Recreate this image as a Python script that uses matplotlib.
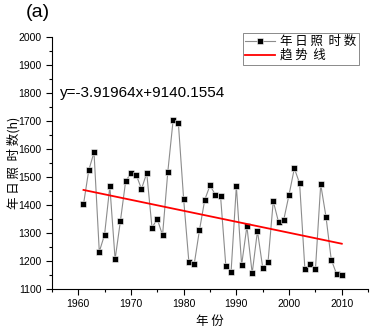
import matplotlib
matplotlib.use("Agg")
import matplotlib.pyplot as plt
import matplotlib.ticker as mticker
import numpy as np

plt.rcParams["font.family"] = ["Liberation Sans", "Noto Sans CJK SC", "DejaVu Sans"]

# annual sunshine hours, 1961-2010
years = list(range(1961, 2011))
sunshine = [
    1402, 1524, 1588, 1233, 1294, 1467, 1206, 1342, 1485, 1514,
    1508, 1457, 1514, 1319, 1350, 1292, 1519, 1702, 1692, 1421,
    1195, 1188, 1310, 1418, 1470, 1437, 1432, 1183, 1162, 1467,
    1186, 1324, 1156, 1307, 1176, 1195, 1414, 1339, 1348, 1437,
    1531, 1477, 1171, 1188, 1170, 1474, 1358, 1205, 1154, 1151,
]
slope = -3.91964
intercept = 9140.1554

x = np.array(years, dtype=float)
trend = slope * x + intercept

cjk = ["Noto Sans CJK SC", "DejaVu Sans"]

fig = plt.figure(figsize=(3.73, 3.29), dpi=100)
ax = fig.add_axes([0.139, 0.1216, 0.848, 0.766])

ax.plot(x, sunshine, color="#8c8c8c", linewidth=0.8, marker="s",
        markersize=5, markerfacecolor="black", markeredgecolor="white",
        markeredgewidth=0.4, label="年 日 照  时 数", zorder=3)
ax.plot(x, trend, color="red", linewidth=1.3, label="趋 势  线", zorder=4)

ax.set_xlim(1955, 2015)
ax.set_ylim(1100, 2000)
ax.xaxis.set_major_locator(mticker.MultipleLocator(10))
ax.xaxis.set_minor_locator(mticker.MultipleLocator(5))
ax.yaxis.set_major_locator(mticker.MultipleLocator(100))
ax.yaxis.set_minor_locator(mticker.MultipleLocator(50))
ax.tick_params(which="major", direction="out", length=4, width=0.8, labelsize=7.5)
ax.tick_params(which="minor", direction="out", length=2.5, width=0.8)
for side in ("top", "right"):
    ax.spines[side].set_visible(False)

ax.set_xlabel("年 份", fontsize=9, family=cjk, labelpad=4)
ax.set_ylabel("年 日 照  时 数(h)", fontsize=9, family=cjk)
ax.yaxis.set_label_coords(-0.1, 0.5)

ax.text(1956.6, 1800, f"y={slope}x+{intercept}", fontsize=11, va="center")
fig.text(0.07, 0.962, "(a)", fontsize=14, va="center")

leg = ax.legend(loc="upper right", bbox_to_anchor=(0.963, 0.9),
                bbox_transform=fig.transFigure,
                prop={"family": cjk, "size": 9},
                frameon=True, fancybox=False, edgecolor="#555555",
                handlelength=2.4, borderpad=0.2, labelspacing=0.05,
                handletextpad=0.4, borderaxespad=0)
leg.get_frame().set_linewidth(0.6)

fig.savefig("out.png", dpi=100)
